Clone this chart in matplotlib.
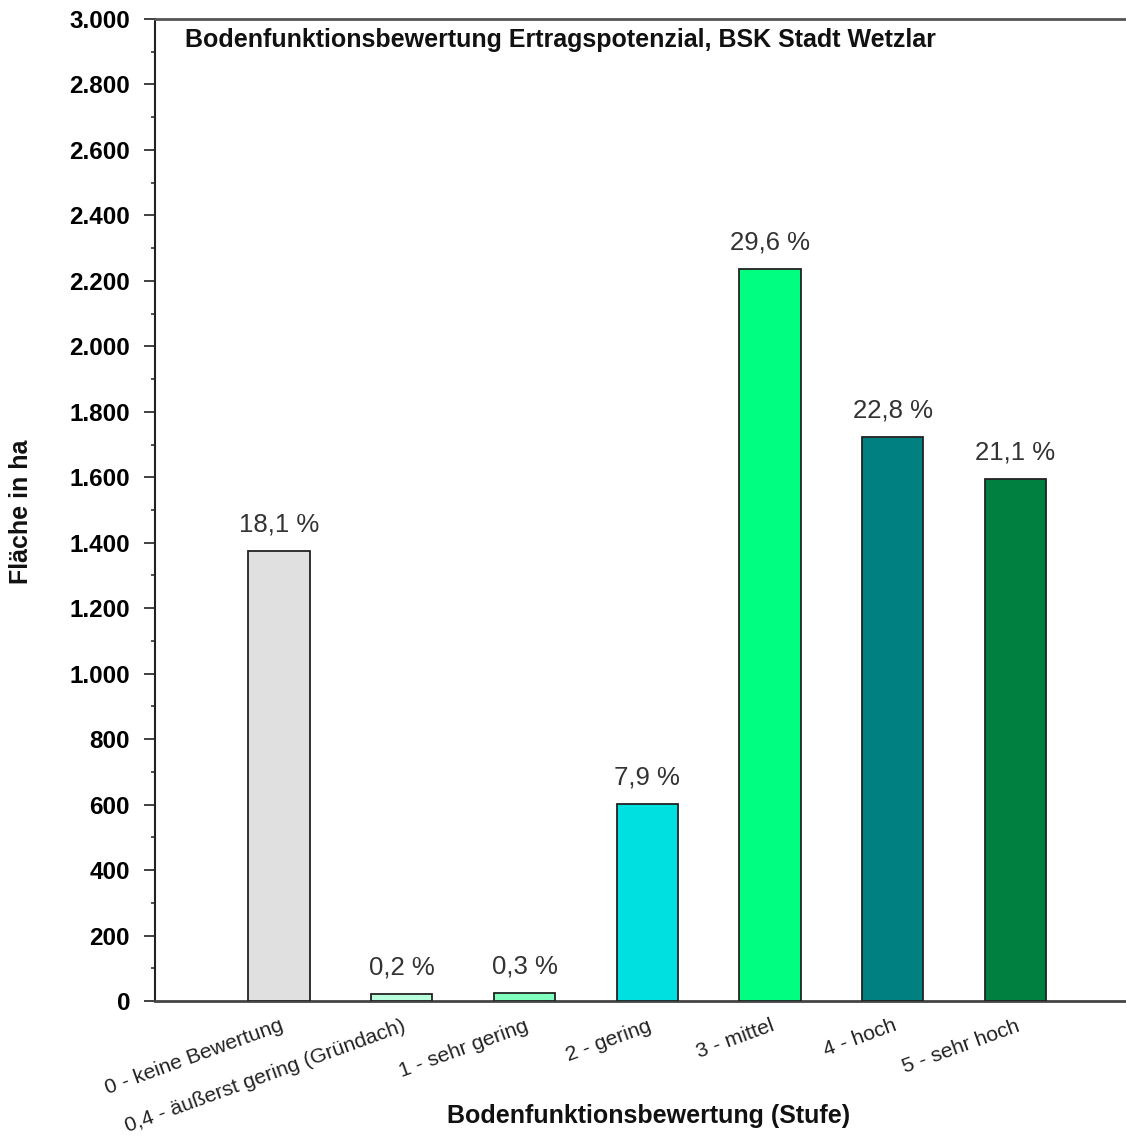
import matplotlib
matplotlib.use("Agg")
import matplotlib.pyplot as plt
from matplotlib.ticker import MultipleLocator, FuncFormatter

categories = ["0 - keine Bewertung", "0,4 - äußerst gering (Gründach)", "1 - sehr gering",
              "2 - gering", "3 - mittel", "4 - hoch", "5 - sehr hoch"]
values = [1375, 21, 25, 602, 2236, 1723, 1595]
percent_labels = ["18,1 %", "0,2 %", "0,3 %", "7,9 %", "29,6 %", "22,8 %", "21,1 %"]
colors = ["#E0E0E0", "#B8FFDC", "#80FFBF", "#00E0E0", "#00FF80", "#008080", "#008040"]

plt.rcParams['font.family'] = ['Liberation Sans', 'DejaVu Sans']

fig = plt.figure(figsize=(11.26, 11.39), dpi=100)
ax = fig.add_axes([155/1126, 1 - 1001/1139, (1126 - 155)/1126, (1001 - 19)/1139])

x = list(range(len(categories)))
ax.bar(x, values, width=0.5, color=colors, edgecolor="#222222", linewidth=1.3, zorder=3)

for xi, v, lab in zip(x, values, percent_labels):
    ax.text(xi, v + 45, lab, ha="center", va="bottom", fontsize=18.5, color="#333333")

ax.set_xlim(-1.01, 6.9)
ax.set_ylim(0, 3000)
ax.yaxis.set_major_locator(MultipleLocator(200))
ax.yaxis.set_minor_locator(MultipleLocator(100))
ax.yaxis.set_major_formatter(FuncFormatter(lambda v, p: f"{int(v):,}".replace(",", ".")))
ax.tick_params(axis="y", which="major", length=8, width=1.3, labelsize=17.5, color="#333333", pad=10)
ax.tick_params(axis="y", which="minor", length=3, width=1.2, color="#333333")
for t in ax.get_yticklabels():
    t.set_fontweight("bold")

ax.set_xticks(x)
ax.set_xticklabels(categories, rotation=20, ha="right", rotation_mode="anchor", fontsize=15.2, color="#222222")
ax.tick_params(axis="x", length=0, pad=11)

ax.spines["right"].set_visible(False)
ax.spines["top"].set_color("#555555")
ax.spines["top"].set_linewidth(2)
ax.spines["left"].set_color("#222222")
ax.spines["left"].set_linewidth(1.5)
ax.spines["bottom"].set_color("#444444")
ax.spines["bottom"].set_linewidth(2)

fig.text(185/1126, 1 - 40/1139, "Bodenfunktionsbewertung Ertragspotenzial, BSK Stadt Wetzlar",
         ha="left", va="center", fontsize=18, fontweight="bold", color="#111111")

fig.text(649/1126, 1 - 1116/1139, "Bodenfunktionsbewertung (Stufe)", ha="center", va="center",
         fontsize=18, fontweight="bold", color="#111111")
fig.text(21/1126, 1 - 512/1139, "Fläche in ha", ha="center", va="center", rotation=90,
         fontsize=18, fontweight="bold", color="#111111")

fig.savefig("out.png", dpi=100, facecolor="white")
